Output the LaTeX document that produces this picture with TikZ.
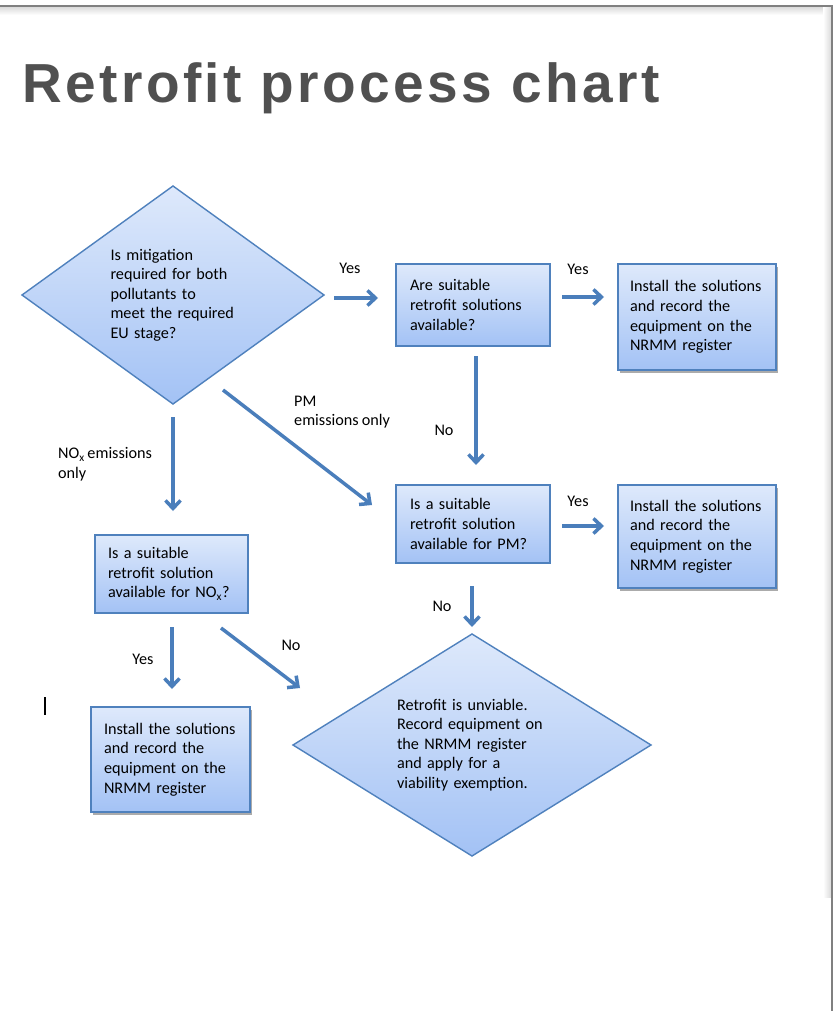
\documentclass[tikz,border=0pt]{standalone}
\usepackage{fontspec}
\setmainfont{Carlito}[WordSpace=0.85]
\newfontfamily\titlefont[LetterSpace=6.3]{Liberation Sans}
\usetikzlibrary{shapes.geometric,arrows.meta,shadows,calc}
\definecolor{boxline}{RGB}{79,129,189}
\definecolor{arrowblue}{RGB}{74,126,187}
\definecolor{filltop}{RGB}{222,233,251}
\definecolor{fillbot}{RGB}{163,194,245}
\definecolor{titlegray}{RGB}{80,80,80}
\definecolor{framegray}{RGB}{128,128,128}
\tikzset{
	txt/.style={font=\fontsize{16.2}{19.6}\selectfont},
	question/.style={txt,diamond,draw=boxline,line width=1.4pt,top color=filltop,bottom color=fillbot,
		aspect=1.4,inner sep=0pt,outer sep=0pt,align=left},
	stepbox/.style={txt,rectangle,draw=boxline,line width=1.5pt,top color=filltop,bottom color=fillbot,
		align=left,inner xsep=13pt,inner ysep=0pt,outer sep=0pt},
	finalbox/.style={stepbox,drop shadow={shadow xshift=1.5pt,shadow yshift=-3pt,opacity=.6,fill=black!55}},
	flow/.style={draw=arrowblue,line width=3.5pt,-{Straight Barb[length=8pt,width=15pt]}},
	lbl/.style={txt,inner sep=0pt}
}
\begin{document}
\begin{tikzpicture}[x=1pt,y=-1pt]
	\fill[white] (0,0) rectangle (836,1011);
	\useasboundingbox (0,0) rectangle (836,1011);
	% page frame
	\shade[top color=black!14,bottom color=white] (0,7) rectangle (831,15);
	\shade[left color=white,right color=black!14] (823,7) rectangle (831,897);
	\draw[framegray,line width=2pt] (0,6) -- (832,6) -- (832,1011);
	\node[anchor=base west,inner sep=0pt,text=titlegray,font=\titlefont\bfseries\fontsize{55}{60}\selectfont] (title) at (22,103) {Retrofit process chart};
	
	\node[question,minimum width=302pt,minimum height=218pt,text width=125pt] (q1) at (173,295)
		{Is mitigation\\required for both\\pollutants to\\meet the required\\EU stage?};
	\node[stepbox,text width=126pt,inner xsep=14pt,minimum height=82pt] (box1) at (473,305)
		{Are suitable\\retrofit solutions\\available?};
	\node[finalbox,text width=134pt,inner xsep=12pt,minimum height=106pt] (box2) at (697,317)
		{Install the solutions\\and record the\\equipment on the\\NRMM register};
	\node[stepbox,text width=126pt,inner xsep=14pt,minimum height=78pt] (box3) at (473,524)
		{Is a suitable\\retrofit solution\\available for PM?};
	\node[finalbox,text width=134pt,inner xsep=12pt,minimum height=103pt] (box4) at (697,536.5)
		{Install the solutions\\and record the\\equipment on the\\NRMM register};
	\node[stepbox,text width=127pt,minimum height=78pt] (box5) at (171.5,574)
		{Is a suitable\\retrofit solution\\available for NO\textsubscript{x}?};
	\node[finalbox,text width=133pt,minimum height=105pt] (box6) at (170.5,759.5)
		{Install the solutions\\and record the\\equipment on the\\NRMM register};
	\node[question,minimum width=358pt,minimum height=222pt,text width=150pt] (q2) at (472,745)
		{Retrofit is unviable.\\Record equipment on\\the NRMM register\\and apply for a\\viability exemption.};
	
	\draw[flow] ($(q1.east)+(10,3)$) -- ($(box1.west)+(-18,-7)$);
	\draw[flow] ($(box1.east)+(12,-8)$) -- ($(box2.west)+(-14,-20)$);
	\draw[flow] ($(box1.south)+(3,10)$) -- ($(box3.north)+(3,-20)$);
	\draw[flow] ($(q1.south)+(50,-14)$) -- ($(box3.west)+(-24,-19)$);
	\draw[flow] ($(q1.south)+(0,13)$) -- ($(box5.north)+(1.5,-24)$);
	\draw[flow] ($(box3.east)+(12,2)$) -- ($(box4.west)+(-14,-10.5)$);
	\draw[flow] ($(box3.south)+(-1,23)$) -- ($(q2.north)+(0,-7)$);
	\draw[flow] ($(box5.south)+(0.5,14)$) -- ($(box6.north)+(1.5,-18)$);
	\draw[flow] ($(box5.south)+(49.5,15)$) -- ($(q2.west)+(7,-57)$);
	
	\node[lbl] (yes1) at (350,268) {Yes};
	\node[lbl] (yes2) at (578,269) {Yes};
	\node[lbl] (no1) at (444,430) {No};
	\node[lbl,align=left,anchor=west] (pm) at (294,412) {PM\\emissions only};
	\node[lbl,align=left,anchor=west] (nox) at (58,464.5) {NO\textsubscript{x}\,emissions\\only};
	\node[lbl] (yes3) at (578,501) {Yes};
	\node[lbl] (no2) at (442,606) {No};
	\node[lbl] (yes4) at (143,659) {Yes};
	\node[lbl] (no3) at (291,645) {No};
	% text cursor
	\draw[line width=1.5pt] (45,697) -- (45,715);
\end{tikzpicture}
\end{document}
